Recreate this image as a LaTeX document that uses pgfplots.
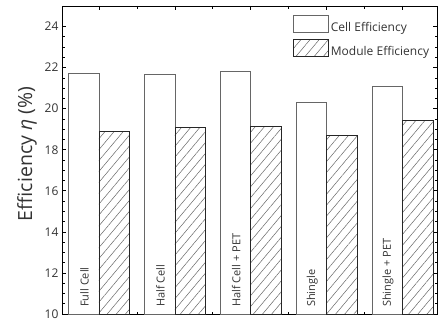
\documentclass[border=0pt]{standalone}
\usepackage{pgfplots}
\pgfplotsset{compat=1.18}
\usepackage{fontspec}
\setmainfont{Open Sans}
\usetikzlibrary{patterns.meta}
\definecolor{txt}{HTML}{333333}
\begin{document}
\begin{tikzpicture}
\begin{axis}[
  scale only axis, width=375pt, height=308pt,
  xmin=-0.487, xmax=4.454, ymin=10, ymax=25,
  ybar, bar width=0.4,
  axis line style={black, line width=0.8pt},
  xtick={0,1,2,3,4}, minor xtick={0.5,1.5,2.5,3.5},
  xticklabels={}, 
  ytick={10,12,...,24}, minor y tick num=3,
  tick align=inside, major tick length=4pt, minor tick length=2.5pt,
  tick style={black, line width=0.7pt},
  /pgf/number format/assume math mode=true,
  tick label style={font=\fontsize{12}{12}\selectfont, text=txt},
  ylabel={Efficiency \textit{η} (\%)},
  every axis y label/.style={at={(axis description cs:0,0.5)}, xshift=-35pt, yshift=6pt, rotate=90, anchor=center, font=\fontsize{19.5}{19.5}\selectfont, text=txt},
  legend image code/.code={\draw[#1, bar shift=0pt] (0pt,-5pt) rectangle (35pt,12pt);},
  legend style={at={(axis description cs:0.616,0.971)}, anchor=north west, draw=none, fill=none, inner sep=0pt, row sep=4pt, font=\fontsize{12}{12}\selectfont, text=txt},
  legend cell align=left,
  clip=false,
]
\addplot[fill=white, draw=black!60, line width=0.7pt, bar shift=-0.2] coordinates {(0,21.72) (1,21.67) (2,21.80) (3,20.29) (4,21.10)};
\addplot[pattern={Lines[angle=50, distance=7pt, line width=0.5pt]}, pattern color=black!60, draw=black!85, line width=0.7pt, bar shift=0.2] coordinates {(0,18.90) (1,19.07) (2,19.15) (3,18.69) (4,19.42)};
\legend{Cell Efficiency, Module Efficiency}
\foreach \k/\lab in {0/Full Cell, 1/Half Cell, 2/Half Cell + PET, 3/Shingle, 4/Shingle + PET}{
  \edef\temp{\noexpand\node[rotate=90, anchor=west, inner sep=0pt, font=\noexpand\fontsize{11}{11}\noexpand\selectfont, text=txt] at ([yshift=7pt]axis cs:\k-0.19,10) {\lab};}
  \temp
}
\end{axis}
\pgfresetboundingbox
\useasboundingbox ([shift={(-62pt,-8pt)}]current axis.south west) rectangle ([shift={(1pt,6pt)}]current axis.north east);
\end{tikzpicture}
\end{document}
